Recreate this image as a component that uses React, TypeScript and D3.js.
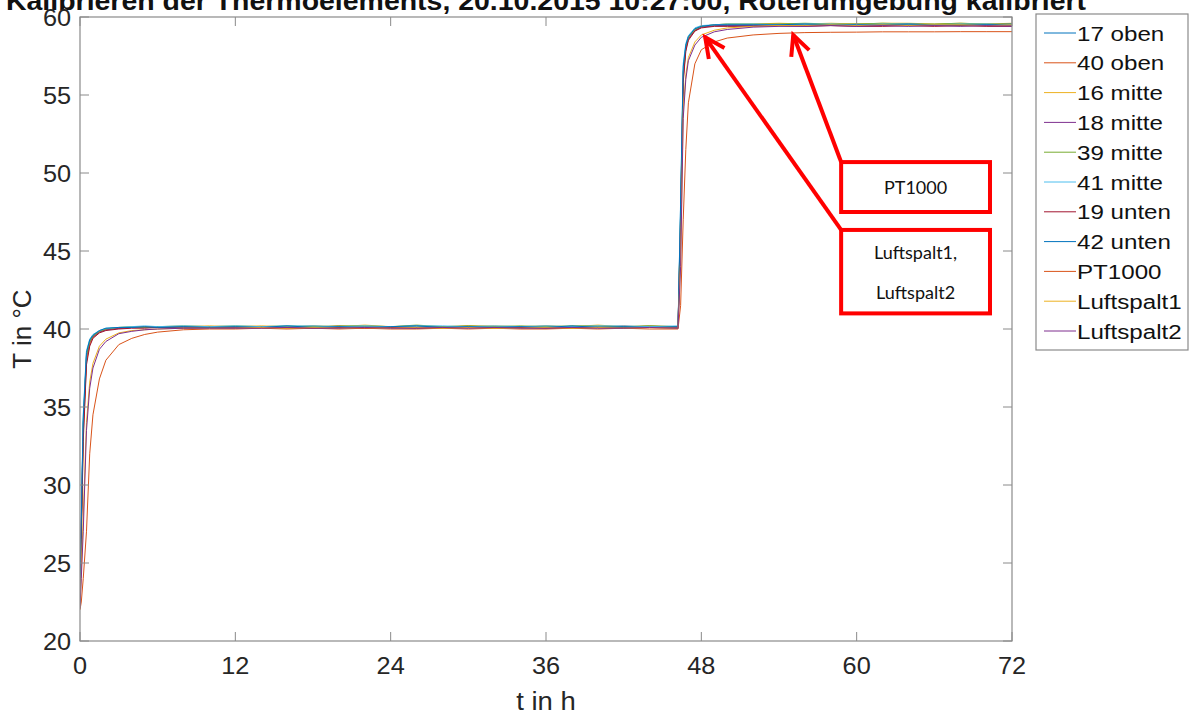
import React from 'react';
import * as d3 from 'd3';

// time axis (h), shared by all series
const hours = [
  0, 0.1, 0.25, 0.5, 0.75, 1, 1.5, 2, 3, 4, 5, 6, 8, 10,
  12, 14, 16, 18, 20, 22, 24, 26, 28, 30, 32, 34, 36, 38, 40, 42, 44, 46.2,
  46.4, 46.6, 46.8, 47, 47.5, 48, 49, 50,
  52, 54, 56, 58, 60, 62, 64, 66, 68, 70, 72,
];

// temperatures in °C
const s17oben = [22.3, 27.5, 34.0, 38.3, 39.2, 39.55, 39.85, 40.0, 40.05, 40.1, 40.1, 40.15, 40.1, 40.15,
  40.1, 40.15, 40.1, 40.2, 40.1, 40.15, 40.1, 40.2, 40.1, 40.15, 40.1, 40.1, 40.2, 40.1, 40.15, 40.1, 40.2, 40.1,
  47.5, 56.5, 58.1, 58.7, 59.2, 59.4, 59.45, 59.5,
  59.5, 59.55, 59.5, 59.5, 59.55, 59.5, 59.55, 59.5, 59.5, 59.55, 59.5];
const s40oben = [22.2, 26.8, 33.2, 37.9, 39.0, 39.45, 39.8, 39.95, 40.05, 40.1, 40.1, 40.1, 40.15, 40.1,
  40.15, 40.1, 40.15, 40.1, 40.2, 40.1, 40.15, 40.1, 40.1, 40.2, 40.1, 40.15, 40.1, 40.15, 40.1, 40.2, 40.1, 40.15,
  46.8, 56.0, 57.9, 58.6, 59.1, 59.35, 59.45, 59.45,
  59.5, 59.5, 59.45, 59.5, 59.5, 59.55, 59.5, 59.5, 59.55, 59.5, 59.5];
const s16mitte = [22.2, 27.0, 33.6, 38.1, 39.1, 39.5, 39.85, 40.0, 40.1, 40.1, 40.15, 40.1, 40.15, 40.2,
  40.15, 40.2, 40.15, 40.2, 40.15, 40.25, 40.15, 40.2, 40.15, 40.2, 40.2, 40.15, 40.2, 40.15, 40.25, 40.15, 40.2, 40.15,
  47.2, 56.3, 58.0, 58.65, 59.2, 59.4, 59.5, 59.55,
  59.55, 59.6, 59.55, 59.6, 59.55, 59.6, 59.6, 59.55, 59.6, 59.55, 59.6];
const s18mitte = [22.3, 27.2, 33.8, 38.2, 39.15, 39.5, 39.8, 39.95, 40.05, 40.1, 40.1, 40.1, 40.15, 40.1,
  40.1, 40.15, 40.1, 40.15, 40.1, 40.1, 40.15, 40.1, 40.15, 40.1, 40.15, 40.1, 40.1, 40.15, 40.1, 40.15, 40.1, 40.1,
  47.0, 56.2, 58.0, 58.6, 59.15, 59.35, 59.45, 59.45,
  59.45, 59.5, 59.45, 59.5, 59.45, 59.5, 59.45, 59.5, 59.45, 59.5, 59.45];
const s39mitte = [22.2, 27.3, 33.9, 38.3, 39.2, 39.55, 39.85, 40.0, 40.1, 40.15, 40.1, 40.15, 40.2, 40.15,
  40.2, 40.15, 40.2, 40.15, 40.2, 40.2, 40.15, 40.25, 40.15, 40.2, 40.15, 40.2, 40.15, 40.2, 40.2, 40.15, 40.2, 40.15,
  47.4, 56.4, 58.1, 58.7, 59.2, 59.4, 59.5, 59.55,
  59.55, 59.55, 59.6, 59.55, 59.55, 59.6, 59.55, 59.55, 59.6, 59.55, 59.55];
const s41mitte = [22.3, 28.0, 34.5, 38.6, 39.35, 39.65, 39.9, 40.05, 40.1, 40.15, 40.2, 40.15, 40.2, 40.15,
  40.2, 40.15, 40.2, 40.2, 40.15, 40.2, 40.15, 40.2, 40.2, 40.15, 40.2, 40.15, 40.2, 40.15, 40.2, 40.2, 40.15, 40.2,
  48.2, 57.0, 58.3, 58.8, 59.3, 59.45, 59.5, 59.55,
  59.55, 59.5, 59.55, 59.55, 59.5, 59.55, 59.55, 59.5, 59.55, 59.55, 59.5];
const s19unten = [22.1, 26.5, 32.8, 37.7, 38.9, 39.4, 39.75, 39.9, 40.0, 40.05, 40.05, 40.1, 40.05, 40.1,
  40.05, 40.1, 40.05, 40.05, 40.1, 40.05, 40.1, 40.05, 40.05, 40.1, 40.05, 40.1, 40.05, 40.05, 40.1, 40.05, 40.1, 40.05,
  46.5, 55.8, 57.8, 58.5, 59.1, 59.3, 59.4, 59.4,
  59.4, 59.45, 59.4, 59.45, 59.4, 59.4, 59.45, 59.4, 59.45, 59.4, 59.4];
const s42unten = [22.2, 27.8, 34.3, 38.5, 39.3, 39.6, 39.9, 40.05, 40.1, 40.1, 40.15, 40.1, 40.15, 40.1,
  40.15, 40.1, 40.2, 40.1, 40.15, 40.1, 40.15, 40.2, 40.1, 40.15, 40.1, 40.15, 40.1, 40.2, 40.1, 40.15, 40.1, 40.15,
  48.0, 56.8, 58.2, 58.75, 59.25, 59.4, 59.5, 59.5,
  59.5, 59.5, 59.55, 59.5, 59.5, 59.5, 59.55, 59.5, 59.5, 59.5, 59.55];
const sPT1000 = [22.0, 22.5, 24.0, 27.0, 32.0, 34.5, 36.8, 38.0, 39.0, 39.4, 39.65, 39.8, 39.95, 40.0,
  40.0, 40.05, 40.0, 40.05, 40.0, 40.05, 40.0, 40.0, 40.05, 40.0, 40.05, 40.0, 40.0, 40.05, 40.0, 40.05, 40.0, 40.0,
  41.5, 47.0, 51.5, 54.5, 57.0, 57.9, 58.4, 58.65,
  58.85, 58.95, 59.0, 59.02, 59.03, 59.05, 59.05, 59.05, 59.06, 59.06, 59.06];
const sLuftspalt1 = [22.1, 24.5, 28.0, 34.0, 36.6, 37.8, 38.9, 39.35, 39.75, 39.9, 39.95, 40.0, 40.05, 40.05,
  40.05, 40.1, 40.05, 40.1, 40.05, 40.1, 40.05, 40.1, 40.05, 40.1, 40.05, 40.05, 40.1, 40.05, 40.1, 40.05, 40.1, 40.05,
  44.5, 54.0, 56.3, 57.4, 58.4, 58.85, 59.15, 59.3,
  59.4, 59.45, 59.45, 59.5, 59.45, 59.5, 59.45, 59.5, 59.5, 59.45, 59.5];
const sLuftspalt2 = [22.1, 24.0, 27.0, 33.5, 36.2, 37.5, 38.7, 39.2, 39.7, 39.85, 39.95, 40.0, 40.05, 40.05,
  40.05, 40.05, 40.1, 40.05, 40.05, 40.1, 40.05, 40.05, 40.1, 40.05, 40.1, 40.05, 40.05, 40.1, 40.05, 40.05, 40.1, 40.05,
  44.0, 53.5, 56.0, 57.2, 58.2, 58.7, 59.05, 59.2,
  59.35, 59.4, 59.4, 59.45, 59.4, 59.45, 59.4, 59.45, 59.4, 59.45, 59.4];

const seriesNames = ['17 oben', '40 oben', '16 mitte', '18 mitte', '39 mitte', '41 mitte',
  '19 unten', '42 unten', 'PT1000', 'Luftspalt1', 'Luftspalt2'];
const seriesValues = [s17oben, s40oben, s16mitte, s18mitte, s39mitte, s41mitte,
  s19unten, s42unten, sPT1000, sLuftspalt1, sLuftspalt2];
// MATLAB default colour order
const seriesColors = ['#0072BD', '#D95319', '#EDB120', '#7E2F8E', '#77AC30', '#4DBEEE',
  '#A2142F', '#0072BD', '#D95319', '#EDB120', '#7E2F8E'];

const xTicks = [0, 12, 24, 36, 48, 60, 72];
const yTicks = [20, 25, 30, 35, 40, 45, 50, 55, 60];

const title = 'Kalibrieren der Thermoelements, 20.10.2015 10:27:00, Roterumgebung kalibriert';

// callouts: box in data units, arrow tip in data units
const callouts = [
  { lines: ['PT1000'], t0: 58.8, t1: 70.3, T0: 50.7, T1: 47.5, tipT: 55.1, tipV: 58.85 },
  { lines: ['Luftspalt1,', 'Luftspalt2'], t0: 58.8, t1: 70.3, T0: 46.35, T1: 41.0, tipT: 48.3, tipV: 58.7 },
];

const W = 1192;
const H = 718;
const plot = { left: 80, right: 1012, top: 17, bottom: 641 };
const axisColor = '#8a8a8a';
const font = '"Liberation Sans", Arial, sans-serif';

// text stretched sideways a little, like the source image
const Wide = ({ x, y, sx, anchor = 'start', size, children, ...rest }: any) => (
  <text transform={`translate(${x},${y}) scale(${sx},1)`} textAnchor={anchor} fontSize={size} {...rest}>
    {children}
  </text>
);

export default function App() {
  const x = d3.scaleLinear().domain([0, 72]).range([plot.left, plot.right]);
  const y = d3.scaleLinear().domain([20, 60]).range([plot.bottom, plot.top]);
  const line = d3.line<number>().x((_, i) => x(hours[i])).y(d => y(d));

  const arrowHead = (x1: number, y1: number, x2: number, y2: number) => {
    const ang = Math.atan2(y2 - y1, x2 - x1);
    const len = 22;
    const spread = 0.45;
    const a = [x2 - len * Math.cos(ang - spread), y2 - len * Math.sin(ang - spread)];
    const b = [x2 - len * Math.cos(ang + spread), y2 - len * Math.sin(ang + spread)];
    return `M${a[0]},${a[1]}L${x2},${y2}L${b[0]},${b[1]}`;
  };

  const legendX = 1036;
  const legendY = 14;
  const rowH = 29.8;

  return (
    <svg width={W} height={H} style={{ position: 'fixed', left: 0, top: 0, background: '#fff' }}
      fontFamily={font}>
      <rect x={0} y={0} width={W} height={H} fill="#fff" />
      <text x={546} y={10} textAnchor="middle" fontSize={26} fontWeight="bold" fill="#111"
        textLength={1080} lengthAdjust="spacingAndGlyphs">{title}</text>

      <defs>
        <clipPath id="plotclip">
          <rect x={plot.left} y={plot.top} width={plot.right - plot.left} height={plot.bottom - plot.top} />
        </clipPath>
      </defs>

      <g clipPath="url(#plotclip)">
        {seriesValues.map((vals, i) => (
          <path key={seriesNames[i]} d={line(vals) ?? ''} fill="none" stroke={seriesColors[i]}
            strokeWidth={1} strokeLinejoin="round" />
        ))}
      </g>

      {/* axes box and ticks */}
      <rect x={plot.left} y={plot.top} width={plot.right - plot.left} height={plot.bottom - plot.top}
        fill="none" stroke={axisColor} strokeWidth={1.2} />
      {xTicks.map(t => (
        <g key={'x' + t}>
          <line x1={x(t)} x2={x(t)} y1={plot.bottom} y2={plot.bottom - 9} stroke={axisColor} />
          <line x1={x(t)} x2={x(t)} y1={plot.top} y2={plot.top + 9} stroke={axisColor} />
          <Wide x={x(t)} y={674} sx={1.1} anchor="middle" size={23} fill="#262626">{t}</Wide>
        </g>
      ))}
      {yTicks.map(v => (
        <g key={'y' + v}>
          <line x1={plot.left} x2={plot.left + 9} y1={y(v)} y2={y(v)} stroke={axisColor} />
          <line x1={plot.right} x2={plot.right - 9} y1={y(v)} y2={y(v)} stroke={axisColor} />
          <Wide x={71} y={y(v) + 8.5} sx={1.1} anchor="end" size={23} fill="#262626">{v}</Wide>
        </g>
      ))}
      <Wide x={546} y={710} sx={1.1} anchor="middle" size={25} fill="#262626">t in h</Wide>
      <text transform={`translate(31,${(plot.top + plot.bottom) / 2}) rotate(-90)`} textAnchor="middle"
        fontSize={26} fill="#262626">T in °C</text>

      {/* legend */}
      <rect x={legendX} y={legendY} width={152} height={336} fill="#fff" stroke={axisColor} strokeWidth={1.2} />
      {seriesNames.map((name, i) => {
        const cy = legendY + 19 + i * rowH;
        return (
          <g key={'lg' + name}>
            <line x1={legendX + 8} x2={legendX + 40} y1={cy} y2={cy} stroke={seriesColors[i]} strokeWidth={1} />
            <Wide x={legendX + 41} y={cy + 7.5} sx={1.15} size={21} fill="#111">{name}</Wide>
          </g>
        );
      })}

      {/* red callouts */}
      {callouts.map((c, i) => {
        const bx0 = x(c.t0), bx1 = x(c.t1), by0 = y(c.T0), by1 = y(c.T1);
        const tx = x(c.tipT), ty = y(c.tipV);
        const n = c.lines.length;
        const cy = (by0 + by1) / 2;
        return (
          <g key={'co' + i}>
            <line x1={bx0} y1={by0} x2={tx} y2={ty} stroke="#ff0000" strokeWidth={4} />
            <path d={arrowHead(bx0, by0, tx, ty)} fill="none" stroke="#ff0000" strokeWidth={4}
              strokeLinejoin="miter" />
            <rect x={bx0} y={by0} width={bx1 - bx0} height={by1 - by0} fill="#fff" stroke="#ff0000" strokeWidth={4} />
            {c.lines.map((ln, j) => (
              <text key={ln} x={(bx0 + bx1) / 2} y={cy + 7 + (j - (n - 1) / 2) * 40} textAnchor="middle"
                fontSize={18} fontFamily='Lato, "Open Sans", sans-serif' fill="#111">{ln}</text>
            ))}
          </g>
        );
      })}
    </svg>
  );
}
